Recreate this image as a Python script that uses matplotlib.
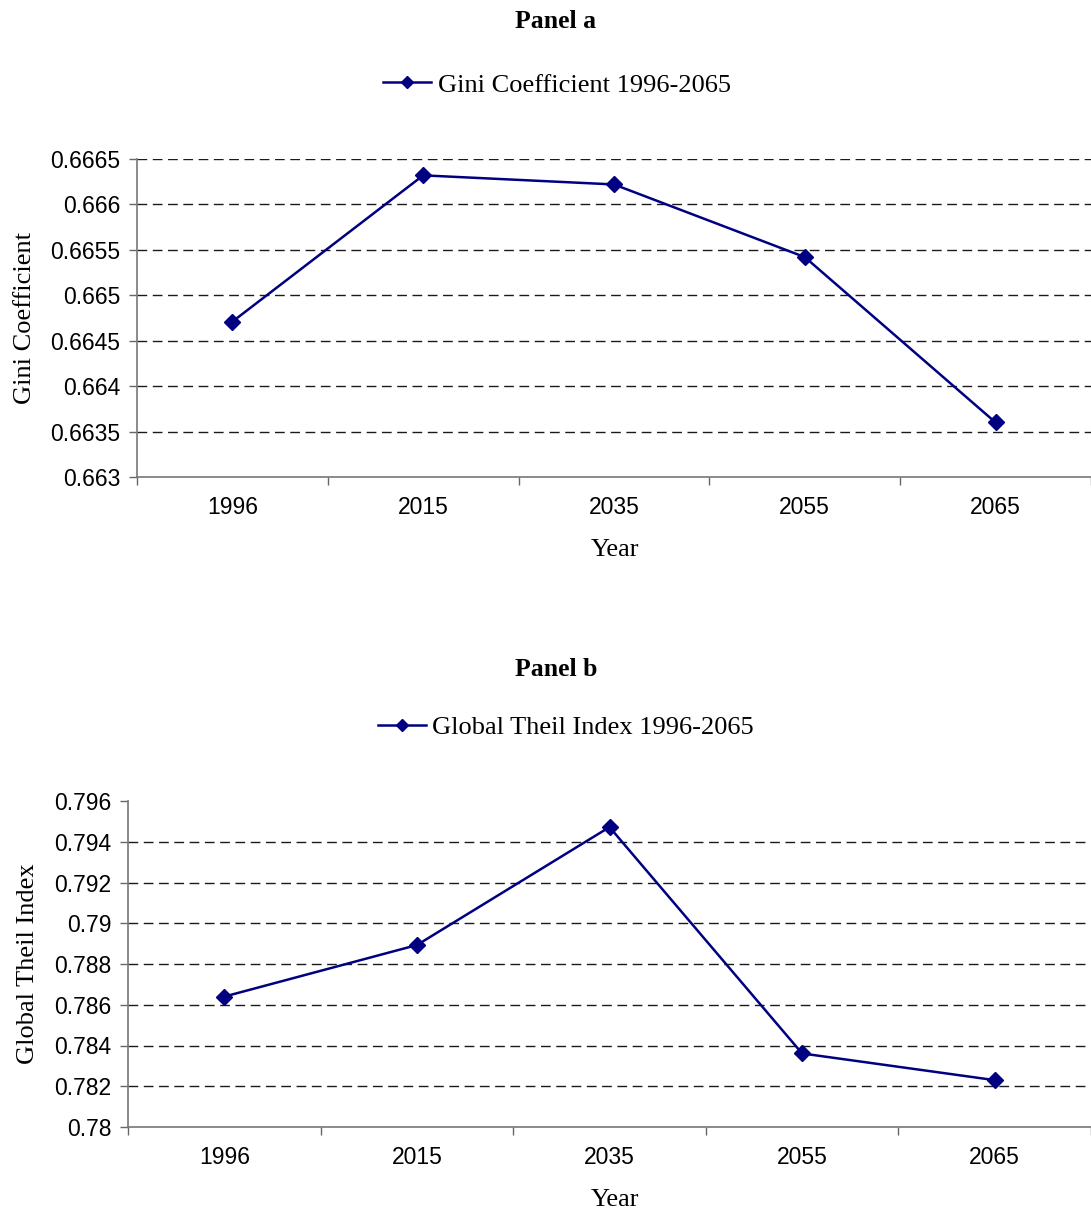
import matplotlib
matplotlib.use("Agg")
import matplotlib.pyplot as plt
from matplotlib.lines import Line2D
import numpy as np

years = ["1996", "2015", "2035", "2055", "2065"]
gini = [0.66471, 0.66632, 0.66622, 0.66542, 0.66360]
theil = [0.7864, 0.78893, 0.79472, 0.78361, 0.7823]
gini_ticks = [0.663, 0.6635, 0.664, 0.6645, 0.665, 0.6655, 0.666, 0.6665]
gini_ticklabels = ["0.663", "0.6635", "0.664", "0.6645", "0.665", "0.6655", "0.666", "0.6665"]
theil_ticks = [0.78, 0.782, 0.784, 0.786, 0.788, 0.79, 0.792, 0.794, 0.796]
theil_ticklabels = ["0.78", "0.782", "0.784", "0.786", "0.788", "0.79", "0.792", "0.794", "0.796"]

W, H = 1091, 1216
fig = plt.figure(figsize=(W / 100, H / 100), dpi=100)

NAVY = "#000080"
SERIF = ["Liberation Serif", "DejaVu Serif"]
SANS = ["Liberation Sans", "DejaVu Sans"]


def make_panel(left, top, bottom, right_units, values, ticks, ticklabels, grid_vals,
               title, title_y, legend_label, legend_x, legend_y, ylabel, ylabel_x, xlabel_y):
    ax = fig.add_axes([left / W, 1 - bottom / H, (W - left) / W, (bottom - top) / H])
    x = np.arange(len(years))
    ax.plot(x, values, color=NAVY, lw=1.8, marker="D", ms=8, mfc=NAVY, mec=NAVY, zorder=3)
    ax.set_xlim(-0.5, right_units)
    ax.set_ylim(ticks[0], ticks[-1])
    for g in grid_vals:
        ax.axhline(g, color="#1a1a1a", lw=1.0, ls=(0, (7, 4)), zorder=1)
    ax.set_yticks(ticks)
    ax.set_yticklabels(ticklabels, fontfamily=SANS, fontsize=16.5)
    ax.set_xticks(x)
    ax.set_xticklabels(years, fontfamily=SANS, fontsize=16.5)
    ax.tick_params(axis="x", which="major", length=0, pad=14)
    ax.set_xticks(np.arange(-0.5, len(years), 1.0), minor=True)
    ax.tick_params(axis="x", which="minor", length=6, width=1, color="#666666", direction="out")
    ax.tick_params(axis="y", length=6, width=1, color="#666666", direction="out", pad=6)
    for s in ["top", "right"]:
        ax.spines[s].set_visible(False)
    for s in ["left", "bottom"]:
        ax.spines[s].set_color("#777777")
        ax.spines[s].set_linewidth(1.2)
    fig.text(556 / W, 1 - title_y / H, title, ha="center", va="center",
             fontfamily=SERIF, fontweight="bold", fontsize=18.5)
    handle = Line2D([0], [0], color=NAVY, lw=1.8, marker="D", ms=6, mfc=NAVY, mec=NAVY)
    fig.legend([handle], [legend_label], loc="center", bbox_to_anchor=(legend_x / W, 1 - legend_y / H),
               frameon=False, prop={"family": SERIF, "size": 19}, handlelength=1.8,
               handletextpad=0.25)
    fig.text(ylabel_x / W, 1 - (top + bottom) / 2 / H, ylabel, rotation=90, ha="center",
             va="center", fontfamily=SERIF, fontsize=19)
    fig.text(615 / W, 1 - xlabel_y / H, "Year", ha="center", va="center",
             fontfamily=SERIF, fontsize=19)
    return ax


make_panel(137, 159, 477, -0.5 + (W - 137) / 192.0, gini, gini_ticks, gini_ticklabels,
           gini_ticks[1:], "Panel a", 21, "Gini Coefficient 1996-2065", 557, 85,
           "Gini Coefficient", 25, 550)
make_panel(128, 801, 1127, -0.5 + (W - 128) / 194.0, theil, theil_ticks, theil_ticklabels,
           theil_ticks[1:-1], "Panel b", 670, "Global Theil Index 1996-2065", 566, 727,
           "Global Theil Index", 28, 1200)

fig.savefig("out.png", dpi=100)
